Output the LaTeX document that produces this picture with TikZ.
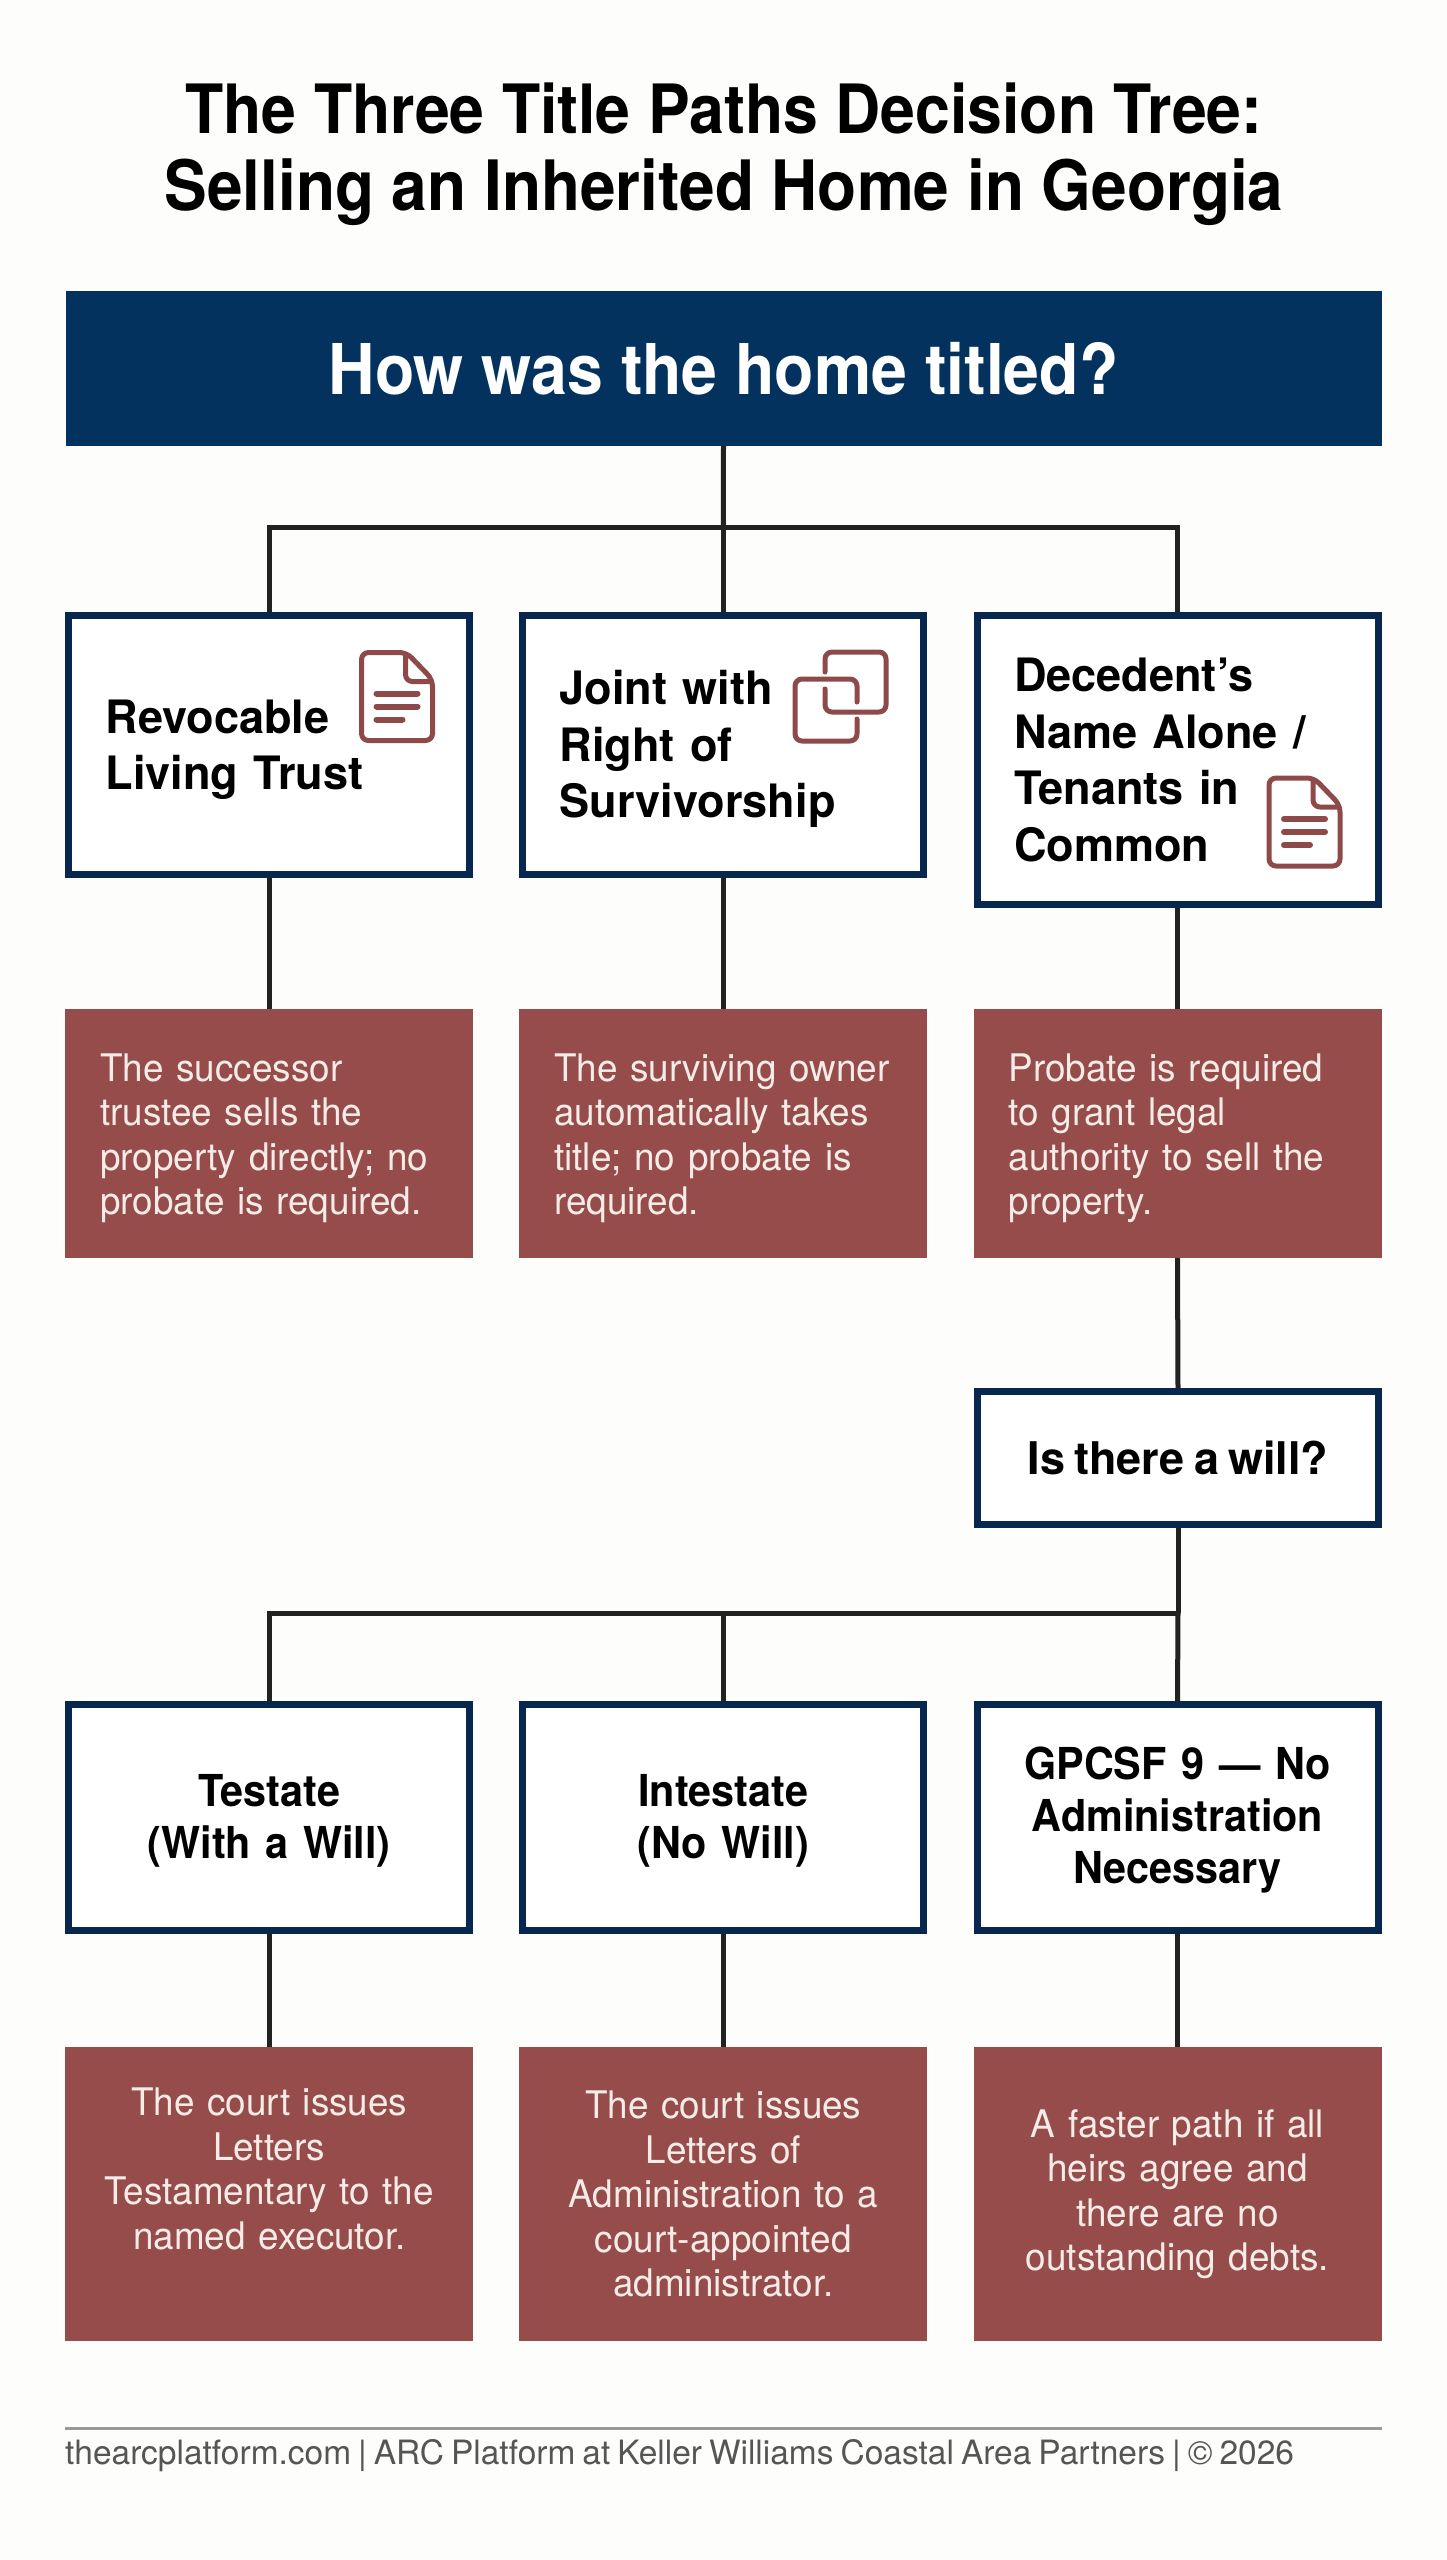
\documentclass[tikz,border=0pt]{standalone}
\usepackage{fontspec}
\setmainfont{TeX Gyre Heros}[WordSpace=0.75]
\newfontfamily\titlefam{TeX Gyre Heros}[FakeStretch=0.92]
\newfontfamily\midfam{TeX Gyre Heros}[FakeStretch=0.94,WordSpace=0.75]
\newfontfamily\labelfam{TeX Gyre Heros}[FakeStretch=0.98,WordSpace=0.75]
\newfontfamily\redfam{TeX Gyre Heros}[FakeStretch=0.97,WordSpace=0.75]
\definecolor{paper}{HTML}{FDFDFC}
\definecolor{navy}{HTML}{04325E}
\definecolor{edge}{HTML}{07274F}
\definecolor{brick}{HTML}{964C4A}
\definecolor{icon}{HTML}{8E4A48}
\definecolor{wire}{HTML}{222222}
\definecolor{pale}{HTML}{F5ECE8}
\definecolor{foot}{HTML}{555555}
\newcommand{\dn}[1]{\rule{0pt}{#1pt}}
\tikzset{
  x=1pt,y=-1pt,
  conn/.style={draw=wire,line width=5pt},
  headbox/.style={fill=navy,text=white,minimum width=1316pt,minimum height=155pt,inner sep=0pt,font=\titlefam\bfseries\fontsize{70}{72}\selectfont},
  whitebox/.style={draw=edge,fill=white,line width=7pt,minimum width=401pt,text=black,inner ysep=0pt,font=\labelfam\bfseries\fontsize{46}{56.5}\selectfont},
  leftbox/.style={whitebox,align=left,inner xsep=37pt,text width=327pt},
  midbox/.style={whitebox,align=center,inner xsep=10pt,text width=381pt,font=\midfam\bfseries\fontsize{44}{52}\selectfont},
  redbox/.style={fill=brick,text=pale,minimum width=408pt,inner ysep=0pt,font=\redfam\fontsize{38}{44.5}\selectfont},
  redleft/.style={redbox,align=left,inner xsep=35pt,text width=338pt},
  redmid/.style={redbox,align=center,inner xsep=10pt,text width=388pt},
  ico/.style={draw=icon,line width=5pt,line join=round,line cap=round,rounded corners=7pt},
  icoline/.style={draw=icon,line width=6pt,line cap=round}
}
\newcommand{\docicon}[2]{%
  \begin{scope}[shift={(#1,#2)}]
    \draw[ico] (0,0) -- (45,0) -- (71,27) -- (71,88) -- (0,88) -- cycle;
    \draw[ico] (44,2) -- (44,29) -- (70,29);
    \draw[icoline] (15,41) -- (56,41);
    \draw[icoline] (15,54) -- (56,54);
    \draw[icoline] (15,67) -- (41,67);
  \end{scope}}
\begin{document}
\begin{tikzpicture}
\useasboundingbox (0,0) rectangle (1447,2560);
\fill[paper] (0,0) rectangle (1447,2560);
\node[font=\titlefam\bfseries\fontsize{68}{77.5}\selectfont,align=center,text=black,inner sep=0pt] (title) at (724,154) {The Three Title Paths Decision Tree:\\{\fontsize{69.5}{77.5}\selectfont Selling an Inherited Home in Georgia}};
\node[headbox] (q1) at (723.5,368.5) {How was the home titled?};
\node[leftbox,minimum height=259pt] (a1) at (269.25,745) {\dn{43}Revocable\\Living Trust};
\node[leftbox,minimum height=259pt] (a2) at (723.25,745) {\dn{43}Joint with\\Right of\\Survivorship};
\node[leftbox,minimum height=288.5pt] (a3) at (1177.5,759.75) {Decedent’s\\Name Alone /\\Tenants in\\Common};
\node[redleft,minimum height=249pt] (r1) at (269.25,1133.5) {\dn{37}The successor\\trustee sells the\\property directly; no\\probate is required.};
\node[redleft,minimum height=249pt] (r2) at (723.25,1133.5) {\dn{37}The surviving owner\\automatically takes\\title; no probate is\\required.};
\node[redleft,minimum height=249pt] (r3) at (1177.5,1133.5) {\dn{37}Probate is required\\to grant legal\\authority to sell the\\property.};
\node[whitebox,minimum height=133pt,font=\bfseries\fontsize{45}{52}\selectfont] (q2) at (1178,1458) {Is there a will?};
\node[midbox,minimum height=226pt] (b1) at (269.25,1817.5) {\dn{38}Testate\\(With a Will)};
\node[midbox,minimum height=226pt] (b2) at (723.25,1817.5) {\dn{38}Intestate\\(No Will)};
\node[midbox,minimum height=226pt] (b3) at (1177.5,1817.5) {\dn{38}GPCSF 9 — No\\Administration\\Necessary};
\node[redmid,minimum height=294pt] (s1) at (269.25,2194) {The court issues\\Letters\\Testamentary to the\\named executor.\\\rule[-6pt]{0pt}{1pt}};
\node[redmid,minimum height=294pt] (s2) at (723.25,2194) {The court issues\\Letters of\\Administration to a\\court-appointed\\administrator.};
\node[redmid,minimum height=294pt] (s3) at (1177.5,2194) {A faster path if all\\heirs agree and\\there are no\\outstanding debts.};
\coordinate (j1) at (723.25,527);
\coordinate (j2) at (1178,1613);
\draw[conn] (q1.south) -- (j1);
\draw[conn] (a1.north) |- (j1) -| (a3.north);
\draw[conn] (j1) -- (a2.north);
\draw[conn] (a1.south) -- (r1.north);
\draw[conn] (a2.south) -- (r2.north);
\draw[conn] (a3.south) -- (r3.north);
\draw[conn] (r3.south) -- (q2.north);
\draw[conn] (q2.south) -- (j2);
\draw[conn] (b1.north) |- (j2);
\draw[conn] (b2.north) |- (j2);
\draw[conn] (j2) -- (b3.north);
\draw[conn] (b1.south) -- (s1.north);
\draw[conn] (b2.south) -- (s2.north);
\draw[conn] (b3.south) -- (s3.north);
\docicon{361.5}{652.5}
\docicon{1269}{778}
\draw[ico] (825,672) -- (825,652) -- (886,652) -- (886,712) -- (825,712) -- (825,689);
\draw[ico] (857,702) -- (857,679) -- (795,679) -- (795,741) -- (857,741) -- (857,719);
\coordinate (f1) at (65,2428);
\coordinate (f2) at (1382,2428);
\draw[draw=gray!80,line width=3pt] (f1) -- (f2);
\node[anchor=base west,inner sep=0pt,text=foot,font=\fontsize{33.5}{40}\selectfont] (foottext) at (65,2464) {thearcplatform.com | ARC Platform at Keller Williams Coastal Area Partners | © 2026};
\end{tikzpicture}
\end{document}
